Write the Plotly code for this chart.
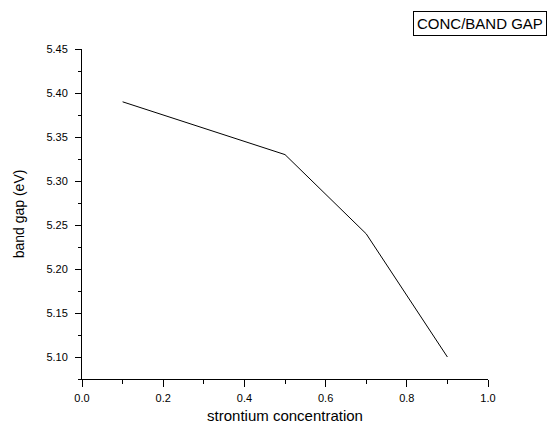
import plotly.graph_objects as go

concentration = [0.1, 0.5, 0.7, 0.9]
band_gap = [5.39, 5.33, 5.24, 5.10]
series_name = "CONC/BAND GAP"

FONT = "Liberation Sans, Arial"

fig = go.Figure()
fig.add_trace(go.Scatter(x=concentration, y=band_gap, mode="lines",
                         line=dict(color="black", width=1), name=series_name,
                         showlegend=False))

axis_common = dict(showline=True, linecolor="black", linewidth=1, ticks="outside",
                   tickcolor="black", tickwidth=1, showgrid=False,
                   zeroline=False, mirror=False, automargin=False,
                   tickfont=dict(family=FONT, size=11, color="black"))

fig.update_xaxes(range=[0, 1], dtick=0.2, tick0=0, tickformat=".1f", ticklen=7,
                 ticklabelstandoff=2,
                 minor=dict(dtick=0.1, ticks="outside", ticklen=4, tickcolor="black"),
                 title=dict(text="strontium concentration", standoff=7,
                            font=dict(family=FONT, size=15, color="black")),
                 **axis_common)
fig.update_yaxes(range=[5.075, 5.45], dtick=0.05, tick0=5.1, tickformat=".2f", ticklen=6,
                 ticklabelstandoff=5,
                 minor=dict(dtick=0.025, tick0=5.075, ticks="outside", ticklen=3, tickcolor="black"),
                 title=dict(text="band gap (eV)", standoff=18,
                            font=dict(family=FONT, size=14, color="black")),
                 **axis_common)

fig.add_annotation(text=series_name, xref="paper", yref="paper", x=0.98, y=1.076,
                   showarrow=False, bordercolor="black", borderwidth=1, borderpad=3,
                   font=dict(family=FONT, size=15, color="black"),
                   xanchor="center", yanchor="middle")

fig.update_layout(width=550, height=425, plot_bgcolor="white", paper_bgcolor="white",
                  margin=dict(l=82, r=62, t=49, b=46))

fig.write_html("out.html")
